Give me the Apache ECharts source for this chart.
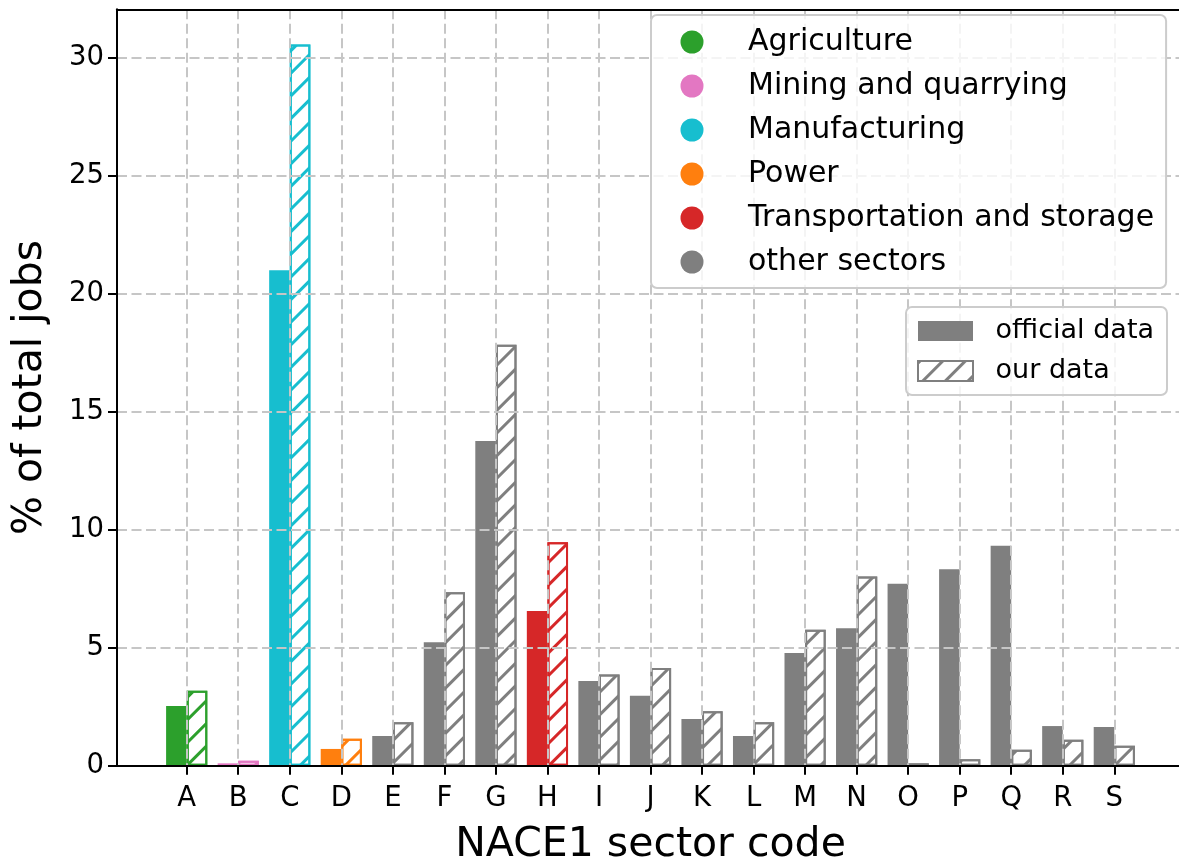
<!DOCTYPE html>
<html>
<head>
<meta charset="utf-8">
<script src="https://cdn.jsdelivr.net/npm/echarts@6/dist/echarts.min.js"></script>
<style>
html,body{margin:0;padding:0;background:#fff;}
#chart{width:1179px;height:862px;}
</style>
</head>
<body>
<div id="chart"></div>
<script>
const categories = ['A','B','C','D','E','F','G','H','I','J','K','L','M','N','O','P','Q','R','S'];
const officialData = [2.53, 0.10, 21.0, 0.71, 1.26, 5.23, 13.76, 6.56, 3.59, 2.97, 1.98, 1.26, 4.78, 5.83, 7.71, 8.33, 9.32, 1.68, 1.64];
const ourData = [3.18, 0.21, 30.57, 1.14, 1.84, 7.35, 17.84, 9.47, 3.87, 4.14, 2.31, 1.84, 5.76, 8.02, 0.10, 0.27, 0.68, 1.10, 0.85];
const sectorNames = ['Agriculture','Mining and quarrying','Manufacturing','Power','Transportation and storage','other sectors'];
const sectorColors = ['#2ca02c','#e377c2','#17becf','#ff7f0e','#d62728','#7f7f7f'];
const categorySector = [0,1,2,3,5,5,5,4,5,5,5,5,5,5,5,5,5,5,5];
const yTicks = [0,5,10,15,20,25,30];
const seriesNames = ['official data','our data'];

const FONT = 'DejaVu Sans';
const GRAY = '#7f7f7f';
const YMAX = 32.06;

function hatch(color){
  return {
    symbol: 'rect', symbolSize: 1, symbolKeepAspect: false,
    color: color, backgroundColor: null,
    dashArrayX: [1, 0], dashArrayY: [2.5, 12.1],
    rotation: -Math.PI / 4
  };
}

const chart = echarts.init(document.getElementById('chart'), null, {renderer: 'canvas'});

const gridLine = {show: true, lineStyle: {color: '#c6c6c6', width: 2, type: [10, 4.5]}};

const officialItems = officialData.map((v, i) => ({
  value: v,
  itemStyle: {color: sectorColors[categorySector[i]]}
}));
const ourItems = ourData.map((v, i) => ({
  value: v,
  itemStyle: {
    color: '#ffffff',
    borderColor: sectorColors[categorySector[i]],
    borderWidth: 2,
    decal: hatch(sectorColors[categorySector[i]])
  }
}));

const legendSeries = sectorNames.map((n, i) => ({
  name: n, type: 'scatter', xAxisIndex: 2, yAxisIndex: 1, data: [],
  itemStyle: {color: sectorColors[i], opacity: 1}
}));

const option = {
  animation: false,
  backgroundColor: '#ffffff',
  textStyle: {fontFamily: FONT},
  grid: [
    {left: 117, top: 9.3, right: -5, bottom: 96.3, outerBoundsMode: 'none', containLabel: false},
    {left: 186.7, top: 9.3, right: 64.7, bottom: 96.3, outerBoundsMode: 'none', containLabel: false}
  ],
  xAxis: [
    {
      gridIndex: 0, type: 'value', min: 0, max: 1, position: 'bottom', z: 6,
      axisLine: {show: true, lineStyle: {color: '#000', width: 2}},
      axisTick: {show: false}, axisLabel: {show: false}, splitLine: {show: false},
      name: 'NACE1 sector code', nameLocation: 'middle', nameGap: 59,
      nameTextStyle: {fontSize: 41, color: '#000', fontFamily: FONT}
    },
    {
      gridIndex: 0, type: 'value', min: 0, max: 1, position: 'top', z: 6,
      axisLine: {show: true, lineStyle: {color: '#000', width: 2}},
      axisTick: {show: false}, axisLabel: {show: false}, splitLine: {show: false}
    },
    {
      gridIndex: 1, type: 'category', data: categories, boundaryGap: false, z: 5,
      axisLine: {show: false},
      axisTick: {show: true, length: 9, lineStyle: {color: '#000', width: 2}},
      axisLabel: {fontSize: 27.5, color: '#000', margin: 19, fontFamily: FONT, interval: 0},
      splitLine: gridLine
    }
  ],
  yAxis: [
    {
      gridIndex: 0, type: 'value', min: 0, max: YMAX, interval: 5, z: 5,
      axisLine: {show: true, lineStyle: {color: '#000', width: 2}},
      axisTick: {show: true, length: 9, lineStyle: {color: '#000', width: 2}, customValues: yTicks},
      axisLabel: {fontSize: 27.5, color: '#000', margin: 13, fontFamily: FONT, customValues: yTicks},
      splitLine: gridLine,
      name: '% of total jobs', nameLocation: 'middle', nameGap: 66,
      nameTextStyle: {fontSize: 41, color: '#000', fontFamily: FONT}
    },
    {
      gridIndex: 1, type: 'value', min: 0, max: YMAX, interval: 5, show: false
    }
  ],
  legend: [
    {
      data: sectorNames, orient: 'vertical', left: 651, top: 15, z: 10,
      icon: 'circle', itemWidth: 23, itemHeight: 23, itemGap: 14,
      padding: [12, 12, 11, 29.5],
      backgroundColor: 'rgba(255,255,255,0.8)', borderColor: '#cccccc', borderWidth: 2, borderRadius: 6,
      selectedMode: false,
      textStyle: {fontSize: 30, color: '#000', fontFamily: FONT, lineHeight: 30, padding: [0, 0, 0, 39.5]}
    },
    {
      data: [
        {name: seriesNames[0], itemStyle: {color: GRAY}},
        {name: seriesNames[1], itemStyle: {color: '#ffffff', borderColor: GRAY, borderWidth: 2, decal: hatch(GRAY)}}
      ],
      orient: 'vertical', left: 906, top: 307, z: 10,
      icon: 'rect', itemWidth: 55, itemHeight: 20, itemGap: 12,
      padding: [10, 13, 10, 11],
      backgroundColor: 'rgba(255,255,255,0.8)', borderColor: '#cccccc', borderWidth: 2, borderRadius: 6,
      selectedMode: false,
      textStyle: {fontSize: 27, color: '#000', fontFamily: FONT, lineHeight: 28, padding: [0, 0, 0, 17.6]}
    }
  ],
  series: [
    {
      name: seriesNames[0], type: 'bar', xAxisIndex: 2, yAxisIndex: 1,
      data: officialItems, barWidth: 20.6, barGap: '0%', clip: false,
      itemStyle: {color: GRAY}
    },
    {
      name: seriesNames[1], type: 'bar', xAxisIndex: 2, yAxisIndex: 1,
      data: ourItems, barWidth: 20.6, barGap: '0%', clip: false,
      itemStyle: {color: '#ffffff', borderColor: GRAY, borderWidth: 2, decal: hatch(GRAY)}
    }
  ].concat(legendSeries)
};

chart.setOption(option);
</script>
</body>
</html>
